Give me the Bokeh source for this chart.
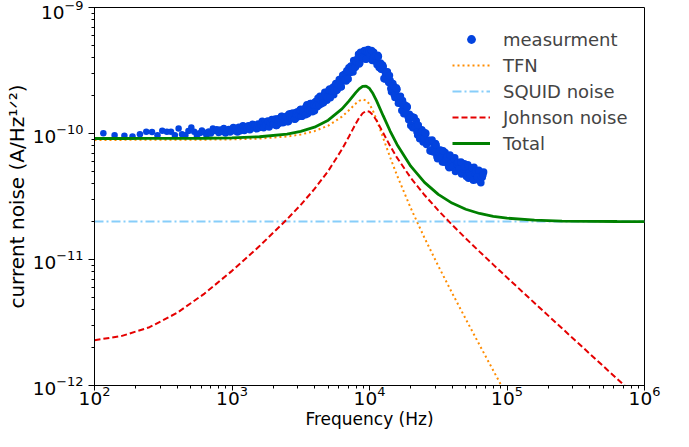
from bokeh.plotting import figure
from bokeh.models import Range1d
from bokeh.embed import file_html
from bokeh.resources import INLINE

# ---------------- data (current noise values in pA = 1e-12 A) ----------------
meas_freq = [
    116, 140, 165, 189, 214, 238, 262, 287, 311, 336, 360, 384, 409, 433, 458, 482, 506, 531, 555,
    580, 604, 628, 653, 677, 702, 726, 750, 775, 799, 824, 848, 872, 897, 921, 946, 970, 994,
    1023, 1047, 1072, 1096, 1122, 1148, 1175, 1202, 1230, 1259, 1288, 1318, 1349, 1380, 1413,
    1445, 1479, 1514, 1549, 1585, 1622, 1660, 1698, 1738, 1778, 1820, 1862, 1905, 1950, 1995,
    2042, 2089, 2138, 2188, 2239, 2291, 2344, 2399, 2455, 2512, 2570, 2630, 2692, 2754, 2818,
    2884, 2951, 3020, 3090, 3162, 3236, 3311, 3388, 3467, 3548, 3631, 3715, 3802, 3890, 3981,
    4074, 4169, 4266, 4365, 4467, 4571, 4677, 4786, 4898, 5012, 5129, 5248, 5370, 5495, 5623,
    5754, 5888, 6026, 6166, 6310, 6457, 6607, 6761, 6918, 7079, 7244, 7413, 7586, 7762, 7943,
    8128, 8318, 8511, 8710, 8913, 9120, 9333, 9550, 9772, 10000, 10230, 10470, 10720, 10960,
    11220, 11480, 11750, 12020, 12300, 12590, 12880, 13180, 13490, 13800, 14130, 14450, 14790,
    15140, 15490, 15850, 16220, 16600, 16980, 17380, 17780, 18200, 18620, 19050, 19500, 19950,
    20420, 20890, 21380, 21880, 22390, 22910, 23440, 23990, 24550, 25120, 25700, 26300, 26920,
    27540, 28180, 28840, 29510, 30200, 30900, 31620, 32360, 33110, 33880, 34670, 35480, 36310,
    37150, 38020, 38900, 39810, 40740, 41690, 42660, 43650, 44670, 45710, 46770, 47860, 48980,
    50120, 51290, 52480, 53700, 54950, 56230, 57540, 58880, 60260, 61660, 63100, 64570, 66070,
    67610,
    2018, 2066, 2113, 2163, 2213, 2265, 2317, 2371, 2427, 2483, 2541, 2600, 2661, 2723, 2786,
    2851, 2917, 2985, 3055, 3126, 3199, 3273, 3349, 3427, 3507, 3589, 3673, 3758, 3846, 3935,
    4027, 4121, 4217, 4315, 4416, 4519, 4624, 4731, 4842, 4955, 5070, 5188, 5309, 5432, 5559,
    5688, 5821, 5957, 6096, 6238, 6383, 6532, 6684, 6839, 6998, 7161, 7328, 7499, 7674, 7852,
    8035, 8223, 8414, 8610, 8811, 9016, 9226, 9441, 9661, 9886, 10115, 10350, 10595, 10840,
    11090, 11350, 11615, 11885, 12160, 12445, 12735, 13030, 13335, 13645, 13965, 14290, 14620,
    14965, 15315, 15670, 16035, 16410, 16790, 17180, 17580, 17990, 18410, 18835, 19275, 19725,
    20185, 20655, 21135, 21630, 22135, 22650, 23175, 23715, 24270, 24835, 25410, 26000, 26610,
    27230, 27860, 28510, 29175, 29855, 30550, 31260, 31990, 32735, 33495, 34275, 35075, 35895,
    36730, 37585, 38460, 39355, 40275, 41215, 42175, 43155, 44160, 45190, 46240, 47315, 48420,
    49550, 50705, 51885, 53090, 54325, 55590, 56885, 58210, 59570, 60960, 62380, 63835, 65320,
    66840,
]
meas_noise_pA = [
    100.5, 97.0, 95.9, 94.7, 98.7, 103.1, 102.8, 97.0, 105.0, 103.1, 103.1, 97.0, 109.5, 98.7,
    97.0, 104.7, 111.5, 103.1, 97.0, 100.5, 105.6, 101.8, 95.9, 103.7, 100.0, 109.5, 104.7,
    108.2, 100.9, 107.6, 102.8, 110.5, 100.0, 105.6, 108.5, 101.8, 106.6,
    111.8, 105.3, 109.4, 102.8, 111.9, 105.1, 109.8, 115.2, 105.7, 112.7, 109.9, 115.4, 107.1,
    112.6, 118.2, 111.3, 115.8, 109.0, 118.7, 111.6, 117.2, 125.2, 111.1, 121.6, 117.3, 125.6,
    112.7, 121.0, 129.3, 118.9, 125.8, 115.5, 130.4, 119.8, 127.9, 136.9, 121.6, 133.3, 128.9,
    138.0, 124.6, 134.4, 144.4, 133.4, 141.5, 130.1, 147.2, 135.7, 145.1, 155.7, 137.0, 155.2,
    149.2, 163.7, 143.5, 158.3, 173.4, 156.7, 169.1, 151.8, 179.7, 163.2, 179.5, 197.9, 172.1,
    195.9, 189.3, 208.9, 184.0, 203.9, 225.5, 205.7, 224.0, 202.8, 239.9, 219.1, 242.2, 268.5,
    234.3, 268.0, 262.5, 296.6, 260.6, 295.7, 332.3, 304.4, 339.2, 307.4, 375.0, 340.4, 379.8,
    424.6, 364.3, 422.1, 407.6, 452.0, 390.2, 435.3, 465.0, 417.9, 441.7, 380.2, 440.9, 375.5,
    395.7, 417.7, 334.7, 361.9, 325.5, 338.3, 271.0, 291.3, 309.0, 253.6, 263.1, 214.1, 249.2,
    203.2, 213.5, 224.3, 173.9, 193.4, 172.4, 182.9, 143.4, 155.0, 165.2, 136.4, 142.3, 115.8,
    135.9, 111.8, 118.6, 125.9, 97.3, 109.7, 99.3, 107.1, 85.5, 93.0, 100.2, 83.7, 88.5, 72.9,
    86.1, 71.8, 77.4, 83.4, 65.6, 74.1, 67.6, 73.7, 59.4, 65.3, 70.8, 59.9, 64.1, 53.6, 64.2,
    54.0, 58.7, 64.1, 51.0, 58.3, 53.4, 58.5, 47.6, 52.7, 57.6, 48.8, 52.6, 44.2, 53.3, 45.0,
    49.2, 53.9, 42.9, 49.3, 45.4, 49.9, 40.6, 45.0, 49.4,
    118.5, 130.6, 115.9, 127.3, 131.8, 124.8, 136.4, 122.9, 130.2, 134.8, 124.0, 143.1, 133.2,
    131.7, 145.6, 129.5, 142.6, 148.0, 140.4, 153.9, 137.3, 148.7, 156.3, 140.6, 169.1, 154.4,
    152.2, 173.1, 148.9, 168.7, 177.8, 167.7, 190.3, 168.4, 183.5, 194.0, 175.5, 212.2, 194.8,
    193.0, 221.1, 192.0, 219.6, 232.4, 219.2, 249.4, 222.0, 243.2, 258.4, 234.9, 289.6, 267.1,
    267.7, 314.3, 270.3, 317.2, 342.6, 325.4, 379.0, 334.7, 371.0, 396.2, 355.8, 441.0, 402.7,
    398.2, 455.0, 388.8, 444.9, 455.0, 419.1, 455.0, 389.8, 409.9, 413.7, 351.0, 408.9, 348.8,
    323.0, 350.1, 272.8, 304.7, 305.6, 262.8, 288.3, 227.8, 237.9, 238.1, 193.0, 230.3, 191.6,
    177.1, 197.9, 151.9, 168.7, 169.3, 146.6, 162.0, 128.6, 134.5, 135.4, 111.0, 134.0, 112.0,
    103.4, 116.3, 90.8, 102.7, 104.4, 91.0, 101.6, 81.7, 86.7, 88.1, 72.7, 88.9, 75.6, 71.0,
    80.6, 63.1, 71.7, 73.6, 64.9, 73.1, 59.2, 63.4, 65.4, 54.8, 67.6, 58.0, 54.9, 63.1, 50.0,
    57.3, 59.1, 52.4, 59.5, 48.6, 52.4, 54.1, 45.5, 56.6, 48.8, 46.4, 53.5, 42.5, 48.9, 50.7,
    45.1, 51.2, 41.9, 45.3, 47.0,
]

model_freq = [
    100, 158.5, 251.2, 398.1, 631.0, 1000, 1585, 2512, 3162, 3981, 5012, 6310, 7079, 7943,
    8414, 8913, 9441, 10000, 10593, 11220, 12589, 14125, 15849, 19953, 25119, 31623, 39811,
    50119, 63096, 79433, 100000, 158489, 251189, 398107, 630957, 1000000,
]
tfn_pA = [
    89.0, 89.0, 89.05, 89.13, 89.34, 89.86, 91.18, 94.65, 98.23, 104.38, 115.39, 136.20,
    152.72, 172.80, 181.70, 186.31, 183.21, 170.93, 151.80, 130.22, 91.85, 64.75, 46.57,
    25.58, 14.845, 8.903, 5.444, 3.369, 2.100, 1.3152, 0.8259, 0.3272, 0.1300, 0.05171,
    0.02058, 0.008193,
]
squid_pA = [
    20.0, 20.0, 20.0, 20.0, 20.0, 20.0, 20.0, 20.0, 20.0, 20.0, 20.0, 20.0, 20.0, 20.0, 20.0,
    20.0, 20.0, 20.0, 20.0, 20.0, 20.0, 20.0, 20.0, 20.0, 20.0, 20.0, 20.0, 20.0, 20.0, 20.0,
    20.0, 20.0, 20.0, 20.0, 20.0, 20.0,
]
johnson_pA = [
    2.285, 2.476, 2.90, 3.768, 5.364, 8.125, 12.783, 20.84, 27.17, 36.29, 50.47, 74.95, 94.28,
    119.67, 133.28, 144.76, 150.77, 149.00, 140.15, 127.35, 100.78, 79.71, 64.33, 44.47,
    32.49, 24.53, 18.887, 14.714, 11.547, 9.103, 7.196, 4.518, 2.845, 1.7939, 1.1316, 0.7139,
]
total_pA = [
    91.25, 91.25, 91.31, 91.42, 91.71, 92.42, 94.22, 98.96, 103.86, 112.30, 127.52, 156.74,
    180.59, 211.14, 226.23, 236.78, 238.11, 227.64, 207.57, 183.23, 137.82, 104.63, 81.90,
    55.06, 40.94, 32.88, 28.04, 25.06, 23.19, 22.01, 21.27, 20.51, 20.20, 20.08, 20.03, 20.01,
]
x_label = "Frequency (Hz)"
y_label = "current noise (A/Hz\u00b9\u141f\u00b2)"

PA = 1e-12
def amps(vals):
    return [v * PA for v in vals]

FONT = "DejaVu Sans"
N_SPARSE = 37  # isolated low-frequency points

p = figure(
    width=672, height=431,
    x_axis_type="log", y_axis_type="log",
    x_range=Range1d(1e2, 1e6), y_range=Range1d(1e-12, 1e-9),
    output_backend="svg", toolbar_location=None,
    min_border_left=94, min_border_right=28, min_border_top=7, min_border_bottom=46,
)
p.background_fill_color = "white"
p.border_fill_color = "white"
p.outline_line_color = "black"
p.outline_line_width = 1
p.grid.visible = False

p.scatter(meas_freq[:N_SPARSE], amps(meas_noise_pA[:N_SPARSE]), size=6.5, color="#0343df",
          line_color=None, legend_label="measurment")
p.scatter(meas_freq[N_SPARSE:], amps(meas_noise_pA[N_SPARSE:]), size=7.5, color="#0343df",
          line_color=None)
p.line(model_freq, amps(tfn_pA), line_color="#ff8c00", line_width=2, line_dash="2 3",
       legend_label="TFN")
p.line(model_freq, amps(squid_pA), line_color="#87cefa", line_width=2, line_dash="9 3 2 3",
       legend_label="SQUID noise")
p.line(model_freq, amps(johnson_pA), line_color="#e50000", line_width=2, line_dash="6 3",
       legend_label="Johnson noise")
p.line(model_freq, amps(total_pA), line_color="green", line_width=2.8,
       legend_label="Total")

for ax in (p.xaxis[0], p.yaxis[0]):
    ax.axis_line_color = "black"
    ax.major_tick_line_color = "black"
    ax.minor_tick_line_color = "black"
    ax.major_tick_in = 0
    ax.minor_tick_out = 3
    ax.minor_tick_in = 0
    ax.major_label_text_font = FONT
    ax.major_label_text_font_size = "18.5px"
    ax.major_label_text_color = "black"
    ax.axis_label_text_font = FONT
    ax.axis_label_text_font_style = "normal"
    ax.axis_label_text_color = "black"

xa = p.xaxis[0]
xa.major_tick_out = 5
xa.major_label_standoff = -5
xa.axis_label = x_label
xa.axis_label_text_font_size = "17px"
xa.axis_label_standoff = 1

ya = p.yaxis[0]
ya.major_tick_out = 6
ya.major_label_standoff = 5
ya.axis_label = y_label
ya.axis_label_text_font_size = "20px"
ya.axis_label_standoff = 1

lg = p.legend[0]
lg.location = (358, 231)
lg.padding = 0
lg.margin = 0
lg.spacing = 4
lg.glyph_width = 38
lg.glyph_height = 22
lg.label_height = 22
lg.label_standoff = 13
lg.label_text_font = FONT
lg.label_text_font_size = "18px"
lg.border_line_color = None
lg.background_fill_alpha = 0

open("out.html", "w").write(file_html(p, INLINE))
